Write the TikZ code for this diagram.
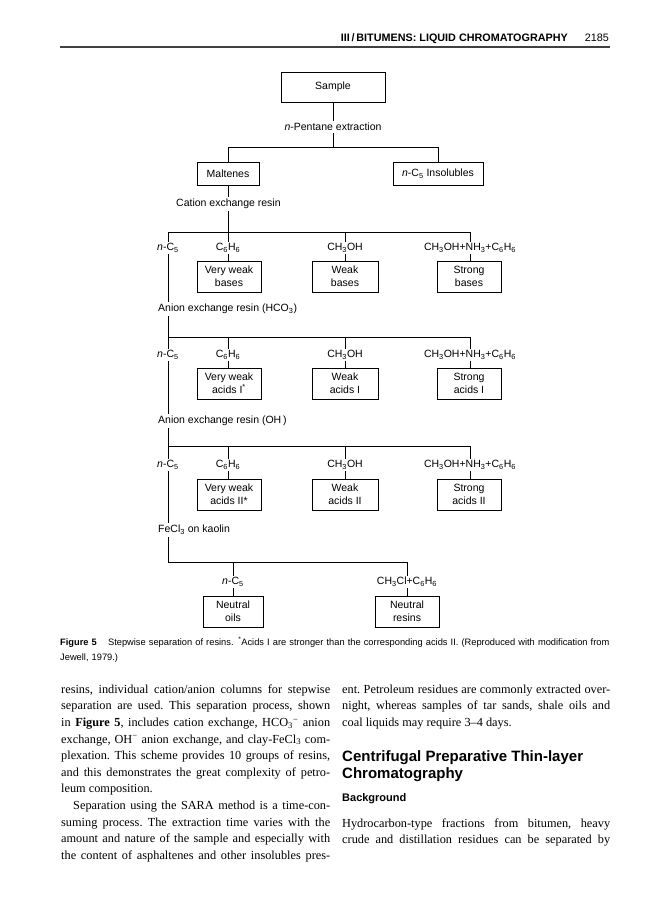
\documentclass[tikz,border=0pt]{standalone}
\usepackage{fontspec}
\setmainfont{Liberation Serif}
\setsansfont{Liberation Sans}
\newcommand{\dfont}{\sffamily\fontsize{10.5}{12.8}\selectfont}
\newcommand{\bodyfont}{\rmfamily\fontsize{12.3}{16.6}\selectfont\frenchspacing\hyphenpenalty=10000\exhyphenpenalty=10000 }
\begin{document}
\begin{tikzpicture}[x=1pt,y=-1pt,
  box/.style={draw, line width=0.9pt, inner sep=0pt, align=center, font=\dfont, minimum height=31pt},
  lbl/.style={inner sep=1.2pt, font=\dfont},
  side/.style={inner sep=2pt, font=\dfont, anchor=west},
  ln/.style={line width=0.9pt},
  body/.style={anchor=north west, inner sep=0pt, text width=269pt, align=justify, font=\bodyfont}]
\useasboundingbox (0,0) rectangle (668,900);

% header
\node[anchor=base east, inner sep=0pt, font=\sffamily\bfseries\fontsize{10.8}{12}\selectfont] (hdr) at (568,41) {III\,/\,BITUMENS: LIQUID CHROMATOGRAPHY};
\node[anchor=base east, inner sep=0pt, font=\sffamily\fontsize{10.8}{12}\selectfont] (pg) at (609,41) {2185};
\draw[line width=1.2pt, black!75] (60,47) -- (610,47);

% top of diagram
\node[box, minimum width=104pt, minimum height=30pt] (sample) at (333,87) {Sample};
\node[lbl, inner sep=2pt] (pent) at (333,127) {\textit{n}-Pentane extraction};
\coordinate (j0) at (333,147);
\coordinate (j0l) at (228,147);
\coordinate (j0r) at (438,147);
\node[box, minimum width=62pt, minimum height=23pt] (malt) at (228,173.5) {Maltenes};
\node[box, minimum width=90pt, minimum height=23pt] (insol) at (438,173.5) {\textit{n}-C\textsubscript{5} Insolubles};
\draw[ln] (sample) -- (pent);
\draw[ln] (pent) -- (j0);
\draw[ln] (j0l) -- (j0r);
\draw[ln] (j0l) -- (malt);
\draw[ln] (j0r) -- (insol);
\node[side] (cat) at (174,204) {Cation exchange resin};
\coordinate (j1) at (228,232);
\draw[ln] (malt.south) -- (malt.south |- cat.north);
\draw[ln] (malt.south |- cat.south) -- (j1);

% row 1 : bases
\coordinate (j1a) at (168,232);
\coordinate (j1b) at (228,232);
\coordinate (j1c) at (345,232);
\coordinate (j1d) at (470,232);
\node[lbl] (r1a) at (168,248) {\textit{n}-C\textsubscript{5}};
\node[lbl] (r1b) at (228,248) {C\textsubscript{6}H\textsubscript{6}};
\node[lbl] (r1c) at (345,248) {CH\textsubscript{3}OH};
\node[lbl] (r1d) at (470,248) {CH\textsubscript{3}OH+NH\textsubscript{3}+C\textsubscript{6}H\textsubscript{6}};
\node[box, minimum width=64pt] (b1b) at (229,276.5) {Very weak\\bases};
\node[box, minimum width=66pt] (b1c) at (345,276.5) {Weak\\bases};
\node[box, minimum width=64pt] (b1d) at (469,276.5) {Strong\\bases};
\draw[ln] (j1a) -- (j1d);
\draw[ln] (j1a) -- (r1a);
\draw[ln] (j1b) -- (r1b);
\draw[ln] (j1c) -- (r1c);
\draw[ln] (j1d) -- (r1d);
\draw[ln] (r1b) -- (r1b |- b1b.north);
\draw[ln] (r1c) -- (r1c |- b1c.north);
\draw[ln] (r1d) -- (r1d |- b1d.north);
\node[side] (an1) at (156,309) {Anion exchange resin (HCO\textsubscript{3})};
\draw[ln] (r1a) -- (r1a |- an1.north);
\coordinate (j2a) at (168,337);
\draw[ln] (r1a |- an1.south) -- (j2a);

% row 2 : acids I
\coordinate (j2b) at (228,337);
\coordinate (j2c) at (345,337);
\coordinate (j2d) at (470,337);
\node[lbl] (r2a) at (168,355) {\textit{n}-C\textsubscript{5}};
\node[lbl] (r2b) at (228,355) {C\textsubscript{6}H\textsubscript{6}};
\node[lbl] (r2c) at (345,355) {CH\textsubscript{3}OH};
\node[lbl] (r2d) at (470,355) {CH\textsubscript{3}OH+NH\textsubscript{3}+C\textsubscript{6}H\textsubscript{6}};
\node[box, minimum width=64pt] (b2b) at (229,383.5) {Very weak\\acids I\textsuperscript{*}};
\node[box, minimum width=66pt] (b2c) at (345,383.5) {Weak\\acids I};
\node[box, minimum width=64pt] (b2d) at (469,383.5) {Strong\\acids I};
\draw[ln] (j2a) -- (j2d);
\draw[ln] (j2a) -- (r2a);
\draw[ln] (j2b) -- (r2b);
\draw[ln] (j2c) -- (r2c);
\draw[ln] (j2d) -- (r2d);
\draw[ln] (r2b) -- (r2b |- b2b.north);
\draw[ln] (r2c) -- (r2c |- b2c.north);
\draw[ln] (r2d) -- (r2d |- b2d.north);
\node[side] (an2) at (156,421) {Anion exchange resin (OH\,)};
\draw[ln] (r2a) -- (r2a |- an2.north);
\coordinate (j3a) at (168,446);
\draw[ln] (r2a |- an2.south) -- (j3a);

% row 3 : acids II
\coordinate (j3b) at (228,446);
\coordinate (j3c) at (345,446);
\coordinate (j3d) at (470,446);
\node[lbl] (r3a) at (168,465) {\textit{n}-C\textsubscript{5}};
\node[lbl] (r3b) at (228,465) {C\textsubscript{6}H\textsubscript{6}};
\node[lbl] (r3c) at (345,465) {CH\textsubscript{3}OH};
\node[lbl] (r3d) at (470,465) {CH\textsubscript{3}OH+NH\textsubscript{3}+C\textsubscript{6}H\textsubscript{6}};
\node[box, minimum width=64pt] (b3b) at (229,494.5) {Very weak\\acids II*};
\node[box, minimum width=66pt] (b3c) at (345,494.5) {Weak\\acids II};
\node[box, minimum width=64pt] (b3d) at (469,494.5) {Strong\\acids II};
\draw[ln] (j3a) -- (j3d);
\draw[ln] (j3a) -- (r3a);
\draw[ln] (j3b) -- (r3b);
\draw[ln] (j3c) -- (r3c);
\draw[ln] (j3d) -- (r3d);
\draw[ln] (r3b) -- (r3b |- b3b.north);
\draw[ln] (r3c) -- (r3c |- b3c.north);
\draw[ln] (r3d) -- (r3d |- b3d.north);
\node[side] (fe) at (156,530) {FeCl\textsubscript{3} on kaolin};
\draw[ln] (r3a) -- (r3a |- fe.north);
\coordinate (j4a) at (168,562);
\draw[ln] (r3a |- fe.south) -- (j4a);

% row 4 : neutrals
\coordinate (j4b) at (233,562);
\coordinate (j4c) at (407,562);
\node[lbl] (r4b) at (233,582) {\textit{n}-C\textsubscript{5}};
\node[lbl] (r4c) at (407,582) {CH\textsubscript{3}Cl+C\textsubscript{6}H\textsubscript{6}};
\node[box, minimum width=60pt] (b4b) at (233,611.5) {Neutral\\oils};
\node[box, minimum width=64pt] (b4c) at (407,611.5) {Neutral\\resins};
\draw[ln] (j4a) -- (j4c);
\draw[ln] (j4b) -- (r4b);
\draw[ln] (j4c) -- (r4c);
\draw[ln] (r4b) -- (r4b |- b4b.north);
\draw[ln] (r4c) -- (r4c |- b4c.north);

% caption
\node[anchor=north west, inner sep=0pt, text width=600pt, align=left, font=\sffamily\fontsize{9.3}{15}\selectfont] (cap) at (60,636.5) {\textbf{Figure 5}\hspace{1.2em}Stepwise separation of resins. \textsuperscript{*}Acids I are stronger than the corresponding acids II. (Reproduced with modification from\\Jewell, 1979.)};

% body text, left column
\node[body] (colL) at (61,681.4) {\strut resins, individual cation/anion columns for stepwise\linebreak
separation are used. This separation process, shown\linebreak
in \textbf{Figure 5}, includes cation exchange, HCO\textsubscript{3}\textsuperscript{−} anion\linebreak
exchange, OH\textsuperscript{−} anion exchange, and clay-FeCl\textsubscript{3} com-\linebreak
plexation. This scheme provides 10 groups of resins,\linebreak
and this demonstrates the great complexity of petro-\linebreak
leum composition.\par
\hspace*{12pt}Separation using the SARA method is a time-con-\linebreak
suming process. The extraction time varies with the\linebreak
amount and nature of the sample and especially with\linebreak
the content of asphaltenes and other insolubles pres-\parfillskip=0pt\par};

% body text, right column
\node[body, text width=268pt] (colR1) at (342,681.4) {\strut ent. Petroleum residues are commonly extracted over-\linebreak
night, whereas samples of tar sands, shale oils and\linebreak
coal liquids may require 3–4 days.};
\node[anchor=north west, inner sep=0pt, align=left, font=\sffamily\bfseries\fontsize{15}{17}\selectfont] (head) at (342,750) {Centrifugal Preparative Thin-layer\\Chromatography};
\node[anchor=north west, inner sep=0pt, font=\sffamily\bfseries\fontsize{11}{13}\selectfont] (bg) at (342,793) {Background};
\node[body, text width=268pt] (colR2) at (342,815.4) {\strut Hydrocarbon-type fractions from bitumen, heavy\linebreak
crude and distillation residues can be separated by\parfillskip=0pt\par};
\end{tikzpicture}
\end{document}
